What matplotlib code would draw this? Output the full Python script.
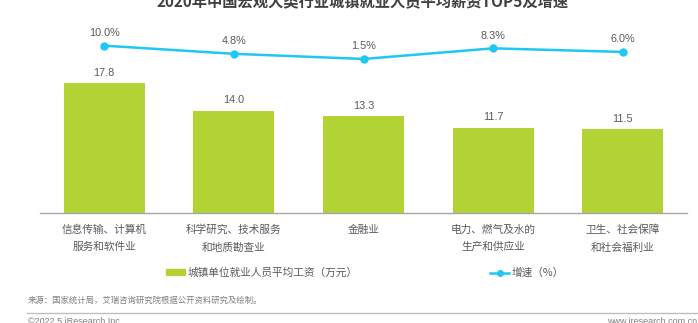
import matplotlib
matplotlib.use("Agg")
import matplotlib.pyplot as plt
from matplotlib.patches import Patch
from matplotlib.lines import Line2D

plt.rcParams["font.family"] = ["Noto Sans CJK SC", "DejaVu Sans"]

# 数据
categories = ["信息传输、计算机\n服务和软件业", "科学研究、技术服务\n和地质勘查业", "金融业",
              "电力、燃气及水的\n生产和供应业", "卫生、社会保障\n和社会福利业"]
wages = [17.8, 14.0, 13.3, 11.7, 11.5]
growth = [10.0, 4.8, 1.5, 8.3, 6.0]

title = "2020年中国宏观大类行业城镇就业人员平均薪资TOP5及增速"
bar_label = "城镇单位就业人员平均工资（万元）"
line_label = "增速（%）"
source = "来源：国家统计局，艾瑞咨询研究院根据公开资料研究及绘制。"

GREEN = "#b3d234"
BLUE = "#1ec8f2"
TXT = "#595959"
W, H = 698, 323

fig = plt.figure(figsize=(W / 100, H / 100), dpi=100)
ax = fig.add_axes([40 / W, 1 - 213.3 / H, 647 / W, 193.3 / H])
x = range(len(categories))

ax.bar(x, wages, width=0.625, color=GREEN)
for xi, v in zip(x, wages):
    ax.annotate(f"{v:.1f}", (xi, v), xytext=(0, 4), textcoords="offset points",
                ha="center", va="bottom", fontsize=7.8, color=TXT, family="Liberation Sans")
ax.set_ylim(0, 26.44)
ax.set_xlim(-0.494, 4.494)
ax.set_yticks([])
ax.set_xticks(list(x))
ax.set_xticklabels(categories, fontsize=7.7, color=TXT, linespacing=1.9)
ax.tick_params(axis="x", length=0, pad=8)
for s in ["top", "left", "right"]:
    ax.spines[s].set_visible(False)
ax.spines["bottom"].set_color("#a6a6a6")
ax.spines["bottom"].set_linewidth(1)

# 增速折线（次坐标轴）
ax2 = ax.twinx()
ax2.plot(x, growth, color=BLUE, linewidth=1.8, marker="o", markersize=5)
for xi, v in zip(x, growth):
    ax2.annotate(f"{v:.1f}%", (xi, v), xytext=(0, 5.5), textcoords="offset points",
                 ha="center", va="bottom", fontsize=7.8, color=TXT, family="Liberation Sans")
ax2.set_ylim(-97.1, 26.4)
ax2.axis("off")

fig.text(363 / W, 1 - 7 / H, title, ha="center", va="baseline", fontsize=11,
         fontweight="bold", color="#404040")

handles = [Patch(color=GREEN),
           Line2D([0], [0], color=BLUE, linewidth=1.8, marker="o", markersize=4)]
fig.legend(handles, [bar_label, line_label], ncol=2, frameon=False,
           loc="center left", bbox_to_anchor=(166 / W, 1 - 273 / H),
           borderpad=0, borderaxespad=0, handlelength=1.8, handleheight=0.5,
           handletextpad=0.2, columnspacing=12.4,
           prop={"size": 7.7}, labelcolor=TXT)

fig.text(28 / W, 1 - 300 / H, source, ha="left", va="center", fontsize=6, color="#7f7f7f")
fig.add_artist(Line2D([27 / W, 1], [1 - 313 / H, 1 - 313 / H], color="#bfbfbf", linewidth=1))
fig.text(28 / W, 1 - 317 / H, "©2022.5 iResearch Inc.", ha="left", va="top",
         fontsize=6.5, color="#7f7f7f", family="Liberation Sans")
fig.text(697 / W, 1 - 317 / H, "www.iresearch.com.cn", ha="right", va="top",
         fontsize=6.5, color="#7f7f7f", family="Liberation Sans")

fig.savefig("out.png", dpi=100)
